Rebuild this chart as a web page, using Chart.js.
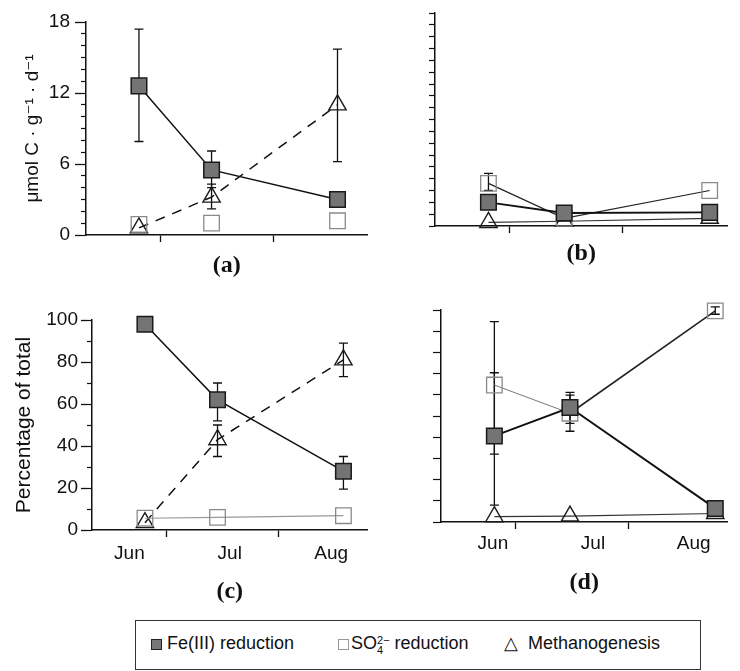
<!DOCTYPE html>
<html>
<head>
<meta charset="utf-8">
<script src="https://cdn.jsdelivr.net/npm/chart.js@4/dist/chart.umd.min.js"></script>
<style>
  body { margin: 0; background: #fff; }
  #page { position: relative; width: 740px; height: 671px; overflow: hidden; background: #fff;
          font-family: "Liberation Sans", Arial, sans-serif; color: #111; }
  .panel { position: absolute; }
  #legend { position: absolute; left: 135px; top: 620px; width: 566px; height: 50px;
            border: 1px solid #333; box-sizing: border-box; }
  #legend .item { position: absolute; top: 11px; font-size: 18px; line-height: 22px; white-space: nowrap; }
  #legend .key { position: absolute; top: 18px; width: 11px; height: 11px; box-sizing: border-box; }
  .ss { display: inline-block; vertical-align: -5px; font-size: 11px; line-height: 10px; }
  .ss span { display: block; }
</style>
</head>
<body>
<div id="page">
  <canvas id="panelA" class="panel" width="380" height="290" style="left:0;top:0"></canvas>
  <canvas id="panelB" class="panel" width="360" height="290" style="left:380px;top:0"></canvas>
  <canvas id="panelC" class="panel" width="380" height="330" style="left:0;top:290px"></canvas>
  <canvas id="panelD" class="panel" width="360" height="330" style="left:380px;top:290px"></canvas>

  <div id="legend">
    <div class="key" style="left:15px; background:#777; border:1px solid #222;"></div>
    <div class="item" style="left:31px;">Fe(III) reduction</div>
    <div class="key" style="left:202px; border:1px solid #999;"></div>
    <div class="item" style="left:215px;">SO<span class="ss"><span>2−</span><span>4</span></span> reduction</div>
    <div class="item" style="left:368px;">△&nbsp; Methanogenesis</div>
  </div>
</div>

<script>
// season axis, days after 11 May
const seasonMonths = ['Jun', 'Jul', 'Aug'];
const monthTickDays = [20, 50.5];
const monthLabelDaysLeft = [10.1, 37.2, 64.6];
const monthLabelDaysRight = [14, 41, 68.2];
const sampleDaysLeft = [14.3, 33.9, 67.9];
const sampleDaysRight = [14.4, 34.8, 74];

// (a) rates, umol C g-1 d-1
const rateFeA = [12.6, 5.5, 3.0];
const rateFeErrA = [[7.9, 17.4], [4.0, 7.1], null];
const rateSo4A = [0.9, 1.0, 1.2];
const rateCh4A = [0.6, 3.2, 11.0];
const rateCh4ErrA = [null, [2.2, 4.3], [6.2, 15.7]];

// (b) rates
const rateFeB = [2.0, 1.1, 1.15];
const rateSo4B = [3.6, 0.65, 3.0];
const rateSo4ErrB = [[3.0, 4.45], null, null];
const rateCh4B = [0.3, 0.4, 0.65];

// (c) percentage of total
const pctFeC = [98, 62, 28];
const pctFeErrC = [null, [52, 70], [19.5, 35]];
const pctSo4C = [5.6, 6, 6.8];
const pctCh4C = [3.5, 43, 81];
const pctCh4ErrC = [null, [35, 50], [73, 89]];

// (d) percentage of total
const pctFeD = [40.6, 54, 6.4];
const pctFeErrD = [[8, 70.4], [46.5, 61.1], null];
const pctSo4D = [64.6, 51.3, 99.6];
const pctSo4ErrD = [[32, 94.5], [42.8, 59.8], [98, 101.5]];
const pctCh4D = [2.5, 2.8, 4];

const rateMax = 18, rateMajorStep = 6, rateMinorStep = 1;
const pctMax = 100, pctMajorStep = 20, pctMinorStep = 10;

const INK = '#111';
const sansFont = '"Liberation Sans", "DejaVu Sans", Arial, sans-serif';
const serifFont = '"Liberation Serif", "DejaVu Serif", serif';

function steps(max, step) {
    const out = [];
    for (let v = 0; v <= max + 1e-9; v += step) out.push(Math.round(v * 100) / 100);
    return out;
}

// marker looks
const feMarker = { pointStyle: 'rect', pointRadius: 11, pointBackgroundColor: '#747474', pointBorderColor: '#1a1a1a', pointBorderWidth: 1.5 };
const so4Marker = { pointStyle: 'rect', pointRadius: 11, pointBackgroundColor: 'rgba(0,0,0,0)', pointBorderColor: '#8a8a8a', pointBorderWidth: 1.3 };
const ch4Marker = { pointStyle: 'triangle', pointRadius: 10, pointBackgroundColor: 'rgba(0,0,0,0)', pointBorderColor: '#1a1a1a', pointBorderWidth: 1.4 };

// vertical error bars with caps, drawn under the markers
const errorBarPlugin = {
    id: 'errorBars',
    beforeDatasetsDraw(chart) {
        const ctx = chart.ctx;
        const yScale = chart.scales.y;
        chart.data.datasets.forEach((ds, i) => {
            if (!ds.errorBars) return;
            const meta = chart.getDatasetMeta(i);
            ctx.save();
            ctx.strokeStyle = INK;
            ctx.lineWidth = 1.3;
            ds.errorBars.forEach((r, j) => {
                if (!r) return;
                const x = meta.data[j].x;
                const lo = yScale.getPixelForValue(r[0]);
                const hi = yScale.getPixelForValue(r[1]);
                ctx.beginPath();
                ctx.moveTo(x, lo); ctx.lineTo(x, hi);
                ctx.moveTo(x - 4.5, lo); ctx.lineTo(x + 4.5, lo);
                ctx.moveTo(x - 4.5, hi); ctx.lineTo(x + 4.5, hi);
                ctx.stroke();
            });
            ctx.restore();
        });
    }
};

function series(days, values, marker, line, errs) {
    return Object.assign({
        data: values.map((v, i) => ({ x: days[i], y: v })),
        showLine: line.show !== false,
        borderColor: line.color || INK,
        borderWidth: line.width || 1.5,
        borderDash: line.dash || [],
        segment: line.segment,
        tension: 0,
        fill: false,
        clip: false,
        errorBars: errs || null
    }, marker);
}

function buildPanel(p) {
    const majorTicks = steps(p.yMax, p.majorStep);
    const minorTicks = steps(p.yMax, p.minorStep);
    const xTicks = monthTickDays.concat(p.labelDays || []).sort((a, b) => a - b);

    new Chart(document.getElementById(p.id), {
        type: 'line',
        data: { datasets: p.datasets },
        options: {
            responsive: false,
            animation: false,
            events: [],
            layout: { padding: { top: p.padTop, right: 0, left: 0, bottom: 0 } },
            plugins: { legend: { display: false }, tooltip: { enabled: false } },
            scales: {
                x: {
                    type: 'linear',
                    min: 0,
                    max: p.xMax,
                    afterBuildTicks: s => { s.ticks = xTicks.map(v => ({ value: v })); },
                    afterFit: s => { s.height = p.xHeight; },
                    border: { color: INK, width: 1.5 },
                    grid: {
                        drawOnChartArea: false,
                        tickLength: 7,
                        tickWidth: 1.3,
                        tickColor: c => (p.labelDays || []).includes(c.tick.value) ? 'rgba(0,0,0,0)' : INK
                    },
                    ticks: {
                        autoSkip: false,
                        maxRotation: 0,
                        padding: p.xLabelPad,
                        color: INK,
                        font: { family: sansFont, size: 19 },
                        callback: v => {
                            const k = (p.labelDays || []).indexOf(v);
                            return k >= 0 ? seasonMonths[k] : '';
                        }
                    },
                    title: {
                        display: true,
                        text: p.letter,
                        color: INK,
                        font: { family: serifFont, size: 24, weight: 'bold' },
                        padding: { top: 0, bottom: p.letterPad }
                    }
                },
                y: {
                    type: 'linear',
                    position: 'left',
                    weight: 1,
                    min: 0,
                    max: p.yMax,
                    afterBuildTicks: s => { s.ticks = majorTicks.map(v => ({ value: v })); },
                    afterFit: s => { s.width = p.yWidth - p.minorLen; },
                    border: { display: false },
                    grid: { drawOnChartArea: false, drawTicks: p.showYLabels, tickLength: 6, tickWidth: 1.3, tickColor: INK },
                    ticks: {
                        display: p.showYLabels,
                        autoSkip: false,
                        padding: p.yLabelPad,
                        color: INK,
                        font: { family: sansFont, size: 19 }
                    },
                    title: {
                        display: !!p.yTitle,
                        text: p.yTitle,
                        color: INK,
                        font: { family: sansFont, size: p.yTitleSize },
                        padding: { top: p.yTitlePad, bottom: 0 }
                    }
                },
                yMinor: {
                    type: 'linear',
                    position: 'left',
                    weight: 0,
                    min: 0,
                    max: p.yMax,
                    afterBuildTicks: s => { s.ticks = minorTicks.map(v => ({ value: v })); },
                    afterFit: s => { s.width = p.minorLen; },
                    border: { color: INK, width: 1.5 },
                    grid: { drawOnChartArea: false, tickLength: p.minorLen, tickWidth: 1.2, tickColor: INK },
                    ticks: { display: false, autoSkip: false }
                }
            }
        },
        plugins: [errorBarPlugin]
    });
}

// (a)
buildPanel({
    id: 'panelA', letter: '(a)', yMax: rateMax, majorStep: rateMajorStep, minorStep: rateMinorStep,
    xMax: 76, padTop: 22, yWidth: 86, minorLen: 5, xHeight: 55, xLabelPad: 4, letterPad: 10,
    showYLabels: true, yLabelPad: 5, yTitle: 'μmol C · g⁻¹ · d⁻¹', yTitleSize: 19, yTitlePad: 21,
    datasets: [
        series(sampleDaysLeft, rateFeA, feMarker, { width: 1.5 }, rateFeErrA),
        series(sampleDaysLeft, rateSo4A, so4Marker, { show: false }),
        series(sampleDaysLeft, rateCh4A, ch4Marker, { width: 1.5, dash: [10, 8] }, rateCh4ErrA)
    ]
});

// (b)
buildPanel({
    id: 'panelB', letter: '(b)', yMax: rateMax, majorStep: rateMajorStep, minorStep: rateMinorStep,
    xMax: 78.8, padTop: 13, yWidth: 55, minorLen: 6, xHeight: 64, xLabelPad: 4, letterPad: 22,
    showYLabels: false, yLabelPad: 4, yTitle: '', yTitleSize: 19, yTitlePad: 0,
    datasets: [
        series(sampleDaysRight, rateFeB, feMarker, { width: 1.8 }),
        series(sampleDaysRight, rateSo4B, so4Marker, { width: 1.2, color: '#222' }, rateSo4ErrB),
        series(sampleDaysRight, rateCh4B, ch4Marker, { width: 1.2, color: '#333' })
    ]
});

// (c)
buildPanel({
    id: 'panelC', letter: '(c)', yMax: pctMax, majorStep: pctMajorStep, minorStep: pctMinorStep,
    xMax: 74.4, padTop: 30, yWidth: 92, minorLen: 5, xHeight: 90, xLabelPad: 5, letterPad: 14,
    labelDays: monthLabelDaysLeft,
    showYLabels: true, yLabelPad: 3, yTitle: 'Percentage of total', yTitleSize: 21, yTitlePad: 12,
    datasets: [
        series(sampleDaysLeft, pctFeC, feMarker, { width: 1.5 }, pctFeErrC),
        series(sampleDaysLeft, pctSo4C, so4Marker, { width: 1.2, color: '#999' }),
        series(sampleDaysLeft, pctCh4C, ch4Marker, { width: 1.5, dash: [10, 8] }, pctCh4ErrC)
    ]
});

// (d)
buildPanel({
    id: 'panelD', letter: '(d)', yMax: pctMax, majorStep: pctMajorStep, minorStep: pctMinorStep,
    xMax: 77.3, padTop: 20, yWidth: 61, minorLen: 8, xHeight: 98, xLabelPad: 3, letterPad: 23,
    labelDays: monthLabelDaysRight,
    showYLabels: false, yLabelPad: 4, yTitle: '', yTitleSize: 19, yTitlePad: 0,
    datasets: [
        series(sampleDaysRight, pctFeD, feMarker, { width: 2 }, pctFeErrD),
        series(sampleDaysRight, pctSo4D, so4Marker, {
            width: 1.6, color: '#222',
            segment: { borderWidth: c => c.p0DataIndex === 0 ? 1 : 1.6, borderColor: c => c.p0DataIndex === 0 ? '#777' : '#222' }
        }, pctSo4ErrD),
        series(sampleDaysRight, pctCh4D, ch4Marker, { width: 1.2, color: '#333' })
    ]
});
</script>
</body>
</html>
